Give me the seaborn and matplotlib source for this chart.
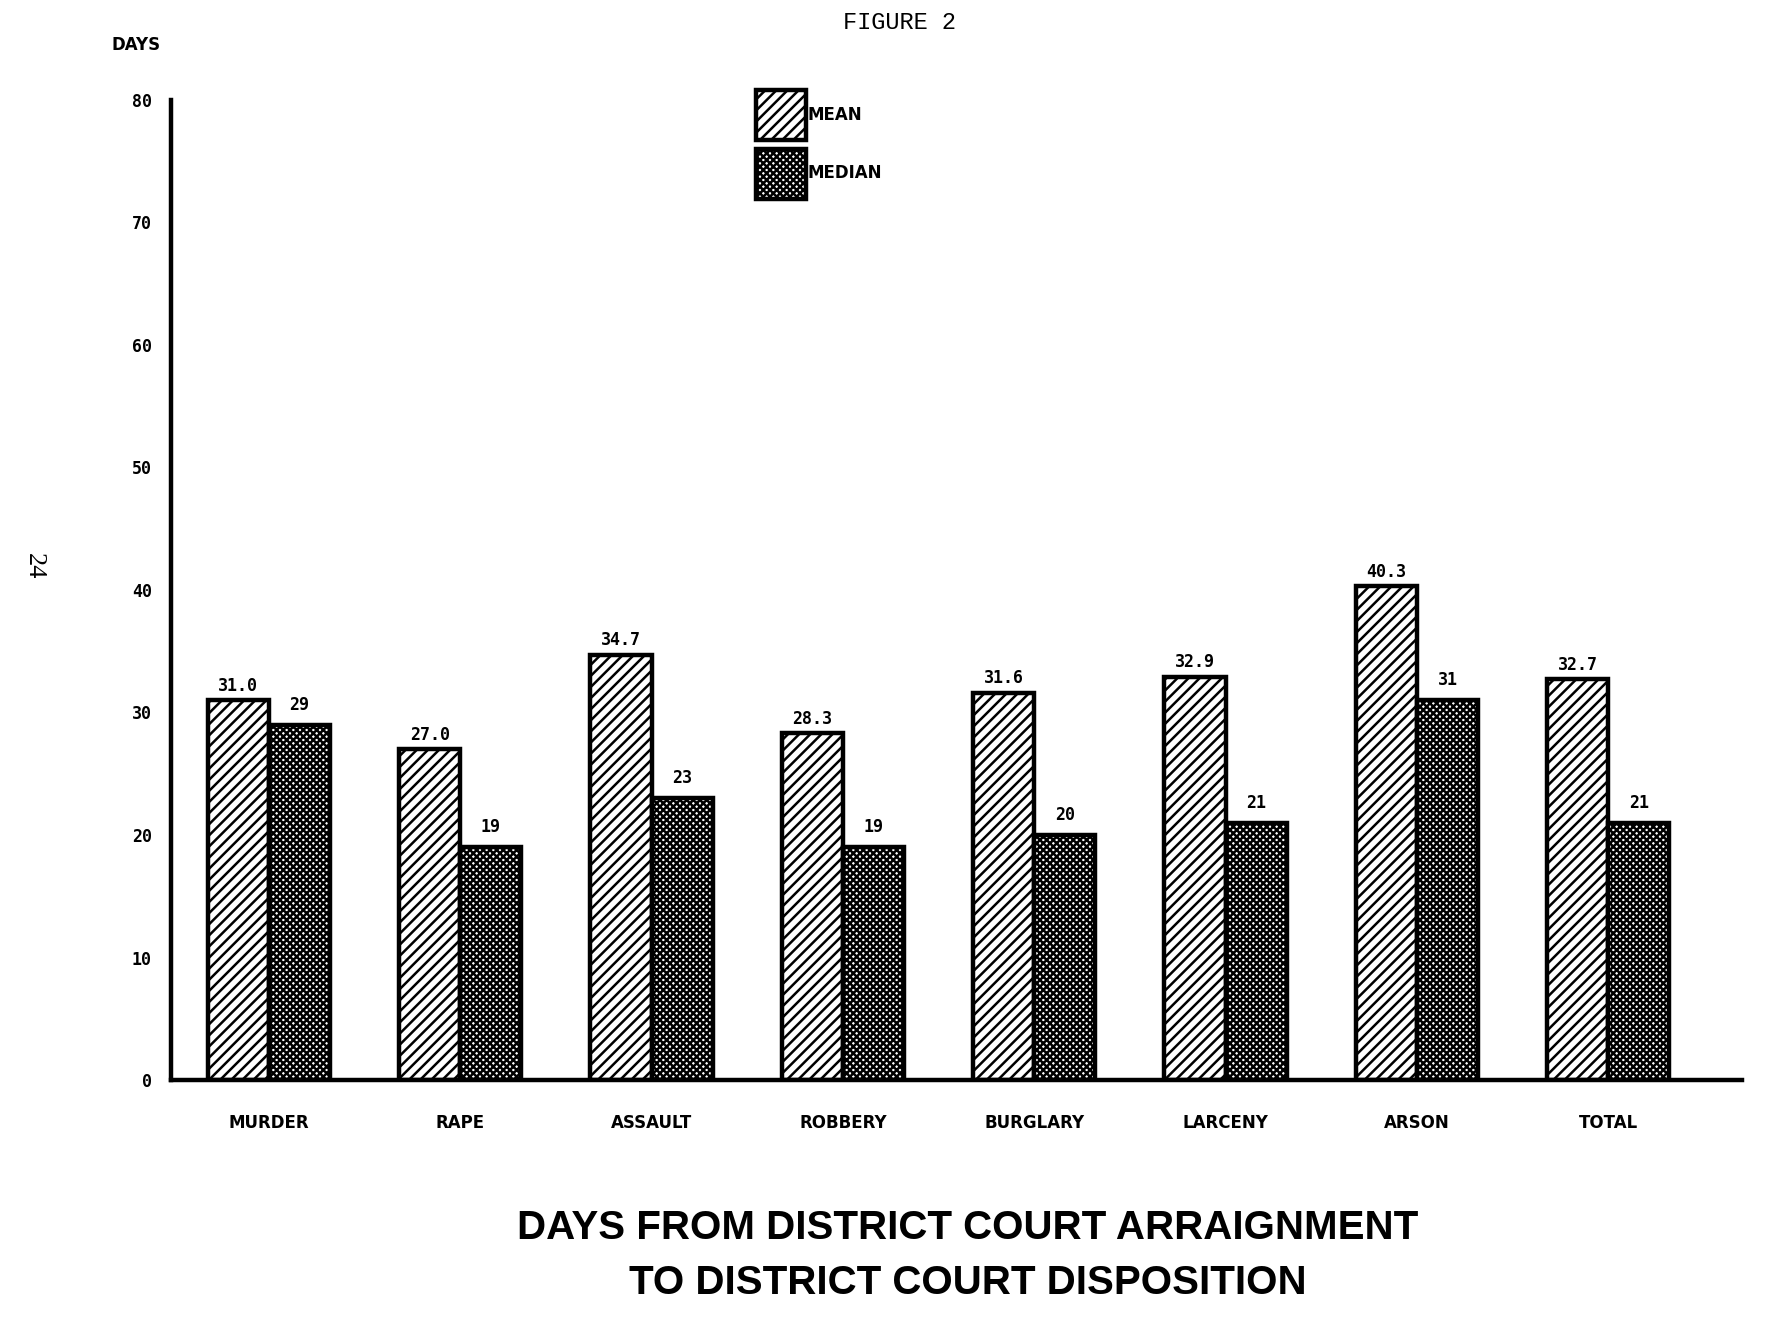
import pandas as pd
import matplotlib.pyplot as plt
import seaborn as sns

crimes = ['MURDER', 'RAPE', 'ASSAULT', 'ROBBERY', 'BURGLARY', 'LARCENY', 'ARSON', 'TOTAL']
mean_days = [31.0, 27.0, 34.7, 28.3, 31.6, 32.9, 40.3, 32.7]
median_days = [29, 19, 23, 19, 20, 21, 31, 21]
stat_names = ['MEAN', 'MEDIAN']
y_ticks = [0, 10, 20, 30, 40, 50, 60, 70, 80]

df = pd.DataFrame({
    'crime': crimes * 2,
    'stat': [stat_names[0]] * len(crimes) + [stat_names[1]] * len(crimes),
    'days': mean_days + median_days,
})

sns.set_style('white')
plt.rcParams['font.family'] = ['DejaVu Sans']
plt.rcParams['hatch.linewidth'] = 1.8
plt.rcParams['text.color'] = 'black'
plt.rcParams['xtick.color'] = 'black'
plt.rcParams['ytick.color'] = 'black'

fig = plt.figure(figsize=(17.85, 13.27), dpi=100)
ax = fig.add_axes([0.096, 0.186, 0.88, 0.739])

sns.barplot(data=df, x='crime', y='days', hue='stat', palette=['white', 'white'],
            edgecolor='black', linewidth=3.2, width=0.64, legend=False, ax=ax)

hatches = ['///', 'xxxxx']
for cont, h in zip(ax.containers, hatches):
    for bar in cont.patches:
        bar.set_hatch(h)

# value labels above bars
ax.bar_label(ax.containers[0], labels=[f'{v:.1f}' for v in mean_days], padding=4,
             fontsize=12, fontweight='bold', family='DejaVu Sans Mono')
ax.bar_label(ax.containers[1], labels=[f'{v}' for v in median_days], padding=8,
             fontsize=12, fontweight='bold', family='DejaVu Sans Mono')

ax.set_ylim(0, 80)
ax.set_xlim(-0.51, 7.7)
ax.set_yticks(y_ticks)
ax.set_yticklabels([str(t) for t in y_ticks], fontsize=12, fontweight='bold', family='DejaVu Sans Mono')
ax.tick_params(axis='y', length=0, pad=14)
ax.tick_params(axis='x', length=0, pad=24, labelsize=12)
for lab in ax.get_xticklabels():
    lab.set_fontweight('bold')
ax.set_xlabel('')
ax.set_ylabel('')

sns.despine(ax=ax)
ax.spines['left'].set_linewidth(3.2)
ax.spines['bottom'].set_linewidth(3.2)
ax.spines['left'].set_color('black')
ax.spines['bottom'].set_color('black')

ax.legend(handles=[ax.containers[0].patches[0], ax.containers[1].patches[0]], labels=stat_names,
          loc='upper left', bbox_to_anchor=(0.416, 0.942), bbox_transform=fig.transFigure,
          frameon=False, handlelength=3.0, handleheight=4.25, handletextpad=0.1, labelspacing=0.5,
          borderpad=0.3, prop={'weight': 'bold', 'size': 12})

fig.text(0.504, 0.992, 'FIGURE 2', ha='center', va='top', fontsize=17, family='Liberation Mono')
fig.text(0.076, 0.966, 'DAYS', ha='center', va='center', fontsize=12, fontweight='bold')
fig.text(0.019, 0.573, '24', ha='center', va='center', rotation=-90, fontsize=19, family='Liberation Serif')
fig.text(0.542, 0.054, 'DAYS FROM DISTRICT COURT ARRAIGNMENT\nTO DISTRICT COURT DISPOSITION',
         ha='center', va='center', fontsize=29, fontweight='bold',
         family=['Liberation Sans Narrow', 'Liberation Sans'], linespacing=1.55)

plt.savefig('out.png', dpi=100)
